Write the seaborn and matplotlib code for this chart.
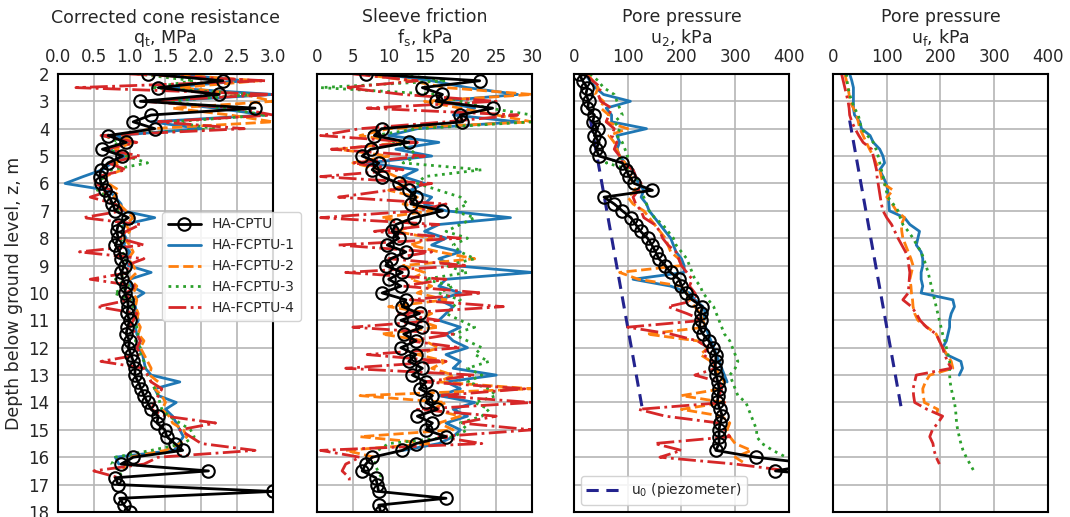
import numpy as np
import pandas as pd
import matplotlib
matplotlib.use("Agg")
import matplotlib.pyplot as plt
import seaborn as sns

# ================== DATA (0.25 m steps) ================== #
depth = np.arange(2.0, 18.01, 0.25)
nan = np.nan

series_names = ["HA-CPTU", "HA-FCPTU-1", "HA-FCPTU-2", "HA-FCPTU-3", "HA-FCPTU-4"]

# corrected cone resistance qt [MPa]
qt_cptu = [1.25, 2.30, 1.40, 2.25, 1.15,
           2.75, 1.30, 1.05, 1.35, 0.70,
           0.95, 0.62, 0.90, 0.70, 0.60,
           0.58, 0.60, 0.65, 0.72, 0.76,
           0.80, 0.98, 0.84, 0.82, 0.84,
           0.80, 0.86, 0.88, 0.93, 0.88,
           0.90, 0.95, 0.93, 0.97, 0.98,
           0.96, 1.00, 0.97, 0.95, 1.00,
           0.98, 1.02, 1.05, 1.08, 1.07,
           1.12, 1.16, 1.20, 1.25, 1.30,
           1.40, 1.38, 1.49, 1.52, 1.63,
           1.74, 1.05, 0.88, 2.10, 0.80,
           0.84, 3.00, 0.86, 0.92, 1.00]
qt_f1 = [1.60, 2.60, 1.50, 3.00, 1.40,
         2.20, 2.90, 1.30, 2.00, 0.80,
         1.00, 0.70, 0.95, 0.75, 0.62,
         0.35, 0.10, 0.70, 0.80, 0.88,
         0.90, 1.35, 0.92, 0.90, 0.95,
         0.92, 1.00, 0.95, 0.98, 1.30,
         1.00, 1.02, 1.20, 1.05, 1.08,
         1.10, 1.12, 1.08, 1.10, 1.15,
         1.12, 1.18, 1.20, 1.22, 1.30,
         1.70, 1.35, 1.40, 1.65, 1.50,
         1.60, 1.65, 1.70, 1.75, 1.68,
         1.62, 0.80, 0.85, nan, nan,
         nan, nan, nan, nan, nan]
qt_f2 = [1.50, 2.80, 1.70, 2.60, 3.00,
         1.60, 2.40, 3.00, 1.30, 0.90,
         1.05, 0.80, 1.00, 0.80, 0.90,
         0.65, 0.70, 0.85, 0.78, 0.85,
         0.95, 1.05, 0.95, 1.00, 0.92,
         1.00, 1.05, 0.98, 1.05, 1.10,
         1.00, 1.10, 1.05, 1.10, 1.08,
         1.12, 1.10, 1.15, 1.12, 1.20,
         1.15, 1.20, 1.25, 1.30, 1.28,
         1.40, 1.35, 1.45, 1.50, 1.45,
         1.55, 1.60, 1.75, 1.80, 1.70,
         1.50, 1.00, 0.95, 0.90, nan,
         nan, nan, nan, nan, nan]
qt_f3 = [1.10, 1.90, 1.30, 2.70, 1.50,
         2.30, 2.90, 1.60, 2.20, 0.65,
         0.85, 0.70, 0.95, 1.25, 0.75,
         0.60, 0.65, 0.55, 0.70, 0.80,
         0.85, 0.95, 0.88, 0.92, 0.90,
         0.85, 0.90, 0.95, 0.90, 0.98,
         0.80, 1.00, 0.78, 1.02, 1.05,
         1.08, 1.05, 1.10, 1.12, 1.08,
         1.15, 1.15, 1.20, 1.22, 1.25,
         1.30, 1.35, 1.40, 1.42, 1.45,
         1.55, 1.70, 1.85, 1.90, 1.75,
         1.30, 0.80, 0.75, 0.85, 0.90,
         nan, nan, nan, nan, nan]
qt_f4 = [1.00, 2.90, 0.25, 3.00, 1.20,
         2.50, 3.00, 1.40, 2.60, 0.60,
         1.10, 0.65, 1.15, 0.70, 0.95,
         0.55, 0.50, 0.75, 0.45, 0.80,
         0.90, 0.35, 1.15, 0.95, 0.85,
         1.20, 0.30, 1.20, 0.95, 1.00,
         0.45, 1.10, 0.95, 1.00, 0.55,
         1.10, 1.05, 1.00, 1.10, 1.15,
         1.10, 1.15, 0.60, 1.20, 1.25,
         1.30, 1.45, 1.40, 1.35, 1.30,
         1.50, 2.20, 1.70, 1.85, 2.00,
         2.75, 1.40, 1.20, 0.50, 0.85,
         nan, nan, nan, nan, nan]

# sleeve friction fs [kPa]
fs_cptu = [6.8, 22.7, 14.7, 17.5, 16.6,
           24.5, 20.0, 20.3, 9.0, 8.0,
           12.8, 7.5, 6.3, 8.6, 7.7,
           9.1, 11.4, 12.8, 13.8, 13.1,
           17.5, 13.5, 11.0, 10.5, 11.4,
           9.8, 12.4, 10.3, 9.6, 11.9,
           10.0, 11.7, 9.1, 12.4, 11.9,
           14.3, 11.7, 14.7, 12.1, 13.8,
           11.7, 13.8, 12.8, 14.7, 13.3,
           15.2, 14.3, 16.1, 15.2, 16.8,
           14.0, 16.1, 15.2, 18.0, 13.8,
           11.9, 7.7, 6.8, 6.3, 8.2,
           8.4, 8.6, 18.0, 8.6, 8.9]
fs_f1 = [9, 16, 21, 28, 17,
         22, 19, 28, 14, 10,
         17, 11, 16, 7, 14,
         12, 15, 13, 16, 15,
         18, 27, 17, 15, 18,
         16, 20, 17, 19, 30,
         18, 17, 20, 17, 19,
         18, 17, 20, 18, 19,
         21, 18, 20, 19, 25,
         18, 20, 17, 22, 19,
         21, 18, 20, 19, 17,
         12, nan, nan, nan, nan,
         nan, nan, nan, nan, nan]
fs_f2 = [6, 13, 18, 30, 15,
         20, 25, 30, 10, 6,
         12, 3, 10, 5, 9,
         11, 13, 10, 14, 12,
         16, 9, 14, 11, 16,
         13, 17, 22, 12, 15,
         13, 16, 14, 18, 10,
         16, 14, 17, 9, 15,
         17, 14, 18, 16, 19,
         17, 30, 6, 18, 16,
         20, 17, 19, 6, 16,
         4, 8, nan, nan, nan,
         nan, nan, nan, nan, nan]
fs_f3 = [11, 18, 0.5, 17, 20,
         24, 30, 30, 14, 8,
         11, 13, 14, 12, 23,
         15, 14, 17, 20, 21,
         19, 22, 20, 18, 21,
         19, 20, 22, 18, 21,
         15, 19, 17, 20, 19,
         18, 20, 22, 19, 21,
         23, 22, 24, 21, 23,
         21, 24, 25, 22, 24,
         23, 20, 21, 19, 10,
         8.5, 8.5, 8, 8.5, 9,
         nan, nan, nan, nan, nan]
fs_f4 = [5, 14, 4, 12, 25,
         7, 28, 18, 6, 0.5,
         14, 2, 15, 5, 12,
         0.5, 16, 10, 3, 18,
         14, 0.5, 17, 8, 20,
         3, 16, 10, 21, 4,
         18, 12, 23, 13, 26,
         11, 17, 5, 19, 13,
         20, 7, 18, 4, 22,
         15, 29, 17, 30, 14,
         25, 20, 30, 17, 23,
         0.5, 6, 4, 3.5, 4.5,
         4.5, nan, nan, nan, nan]

# pore pressure u2 [kPa]
u2_cptu = [10, 16, 25, 22, 28,
           25, 38, 35, 44, 38,
           47, 41, 47, 90, 97,
           103, 112, 146, 56, 75,
           90, 106, 115, 124, 137,
           145, 152, 158, 170, 180,
           196, 200, 208, 220, 239,
           236, 236, 233, 240, 251,
           258, 264, 264, 262, 264,
           268, 270, 268, 267, 272,
           276, 272, 270, 270, 270,
           264, 338, 450, 375, 520,
           nan, nan, nan, nan, nan]
u2_f1 = [20, 30, 40, 55, 105,
         60, 70, 70, 135, 80,
         85, 80, 85, 95, 110,
         115, 120, 130, 125, 135,
         140, 150, 160, 170, 180,
         185, 190, 200, 205, 205,
         110, 180, 215, 225, 240,
         245, 240, 245, 250, 255,
         260, 265, 270, 275, 280,
         285, nan, nan, nan, nan,
         nan, nan, nan, nan, nan,
         nan, nan, nan, nan, nan,
         nan, nan, nan, nan, nan]
u2_f2 = [25, 35, 45, 40, 55,
         50, 65, 60, 100, 65,
         75, 80, 85, 95, 100,
         105, 110, 115, 100, 110,
         130, 140, 150, 160, 170,
         175, 180, 195, 200, 85,
         120, 200, 210, 215, 225,
         235, 240, 245, 135, 230,
         250, 235, 255, 265, 270,
         280, 275, 200, 280, 200,
         275, 290, 285, 290, 300,
         330, 300, 320, nan, nan,
         nan, nan, nan, nan, nan]
u2_f3 = [30, 45, 55, 75, 80,
         85, 90, 75, 85, 80,
         90, 95, 100, 60, 105,
         115, 125, 120, 130, 135,
         140, 150, 165, 175, 185,
         190, 200, 210, 215, 220,
         225, 235, 240, 250, 260,
         265, 270, 275, 280, 290,
         295, 300, 305, 300, 290,
         295, 300, 305, 320, 325,
         330, 335, 340, 340, 350,
         370, 395, nan, nan, nan,
         nan, nan, nan, nan, nan]
u2_f4 = [20, 35, 50, 45, 50,
         70, 65, 60, 75, 70,
         80, 75, 85, 90, 110,
         115, 125, 120, 110, 115,
         125, 130, 150, 160, 165,
         175, 190, 195, 200, 210,
         220, 215, 225, 230, 175,
         210, 240, 100, 180, 230,
         250, 240, 260, 265, 225,
         270, 275, 270, 280, 120,
         170, 270, 280, 290, 150,
         200, 160, 300, 400, nan,
         nan, nan, nan, nan, nan]

# pore pressure uf [kPa] (no HA-CPTU)
uf_f1 = [31, 35, 38, 38, 38,
         38, 40, 50, 53, 69,
         75, 87, 93, 96, 87,
         93, 99, 102, 103, 104,
         105, 133, 143, 161, 158,
         155, 164, 167, 167, 164,
         164, 167, 164, 223, 226,
         220, 217, 217, 214, 211,
         204, 211, 238, 241, 235,
         nan, nan, nan, nan, nan,
         nan, nan, nan, nan, nan,
         nan, nan, nan, nan, nan,
         nan, nan, nan, nan, nan]
uf_f2 = [22, 25, 28, 30, 31,
         38, 44, 47, 50, 56,
         62, 68, 75, 80, 87,
         90, 93, 112, 100, 110,
         118, 133, 127, 128, 130,
         135, 140, 145, 149, 146,
         143, 145, 146, 148, 149,
         152, 158, 175, 192, 198,
         204, 212, 220, 223, 180,
         172, 167, 168, 170, 195,
         192, nan, nan, nan, nan,
         nan, nan, nan, nan, nan,
         nan, nan, nan, nan, nan]
uf_f3 = [25, 26, 28, 31, 35,
         40, 47, 50, 53, 64,
         75, 80, 84, 87, 90,
         93, 96, 99, 102, 112,
         121, 125, 130, 140, 149,
         156, 164, 169, 173, 177,
         180, 183, 186, 189, 192,
         195, 198, 201, 204, 208,
         211, 214, 217, 217, 217,
         218, 220, 223, 226, 228,
         229, 230, 232, 235, 238,
         242, 248, 255, 262, nan,
         nan, nan, nan, nan, nan]
uf_f4 = [16, 19, 22, 25, 28,
         30, 31, 35, 41, 48,
         56, 72, 75, 78, 81,
         82, 84, 86, 88, 90,
         93, 100, 109, 115, 121,
         128, 135, 140, 141, 143,
         142, 141, 140, 130, 146,
         155, 162, 174, 192, 198,
         204, 208, 213, 220, 155,
         152, 149, 150, 152, 175,
         204, 195, 185, 180, 186,
         188, 192, 198, nan, nan,
         nan, nan, nan, nan, nan]

# hydrostatic pore pressure from piezometer
u0_depth = [3.7, 14.2]
u0_vals = [31, 127]

# ================== STYLE ================== #
sns.set_style("white")
plt.rcParams["font.family"] = ["DejaVu Sans"]
plt.rcParams["font.size"] = 12

colors = ["black", "#1f77b4", "#ff7f0e", "#2ca02c", "#d62728"]
styles = ["-", "-", "--", ":", "-."]

panels = [
    ("Corrected cone resistance\nq$_\\mathrm{t}$, MPa", (0, 3), np.arange(0, 3.01, 0.5),
     [qt_cptu, qt_f1, qt_f2, qt_f3, qt_f4]),
    ("Sleeve friction\nf$_\\mathrm{s}$, kPa", (0, 30), np.arange(0, 31, 5),
     [fs_cptu, fs_f1, fs_f2, fs_f3, fs_f4]),
    ("Pore pressure\nu$_\\mathrm{2}$, kPa", (0, 400), np.arange(0, 401, 100),
     [u2_cptu, u2_f1, u2_f2, u2_f3, u2_f4]),
    ("Pore pressure\nu$_\\mathrm{f}$, kPa", (0, 400), np.arange(0, 401, 100),
     [None, uf_f1, uf_f2, uf_f3, uf_f4]),
]

fig = plt.figure(figsize=(10.7, 5.17), dpi=100)
lefts = [0.0542, 0.2963, 0.5364, 0.7785]
axes = [fig.add_axes([l, 0.0097, 0.2009, 0.8473]) for l in lefts]

for k, (ax, (label, xlim, xticks, data)) in enumerate(zip(axes, panels)):
    # FCPTU series first, CPTU on top
    for i in [1, 2, 3, 4, 0]:
        vals = data[i]
        if vals is None:
            continue
        df = pd.DataFrame({"z": depth, "v": vals}).dropna()
        kw = dict(color=colors[i], linestyle=styles[i], linewidth=2.0, label=series_names[i])
        if i == 0:
            kw.update(marker="o", markersize=9, markerfacecolor="none",
                      markeredgecolor="black", markeredgewidth=1.5)
        sns.lineplot(data=df, x="v", y="z", orient="y", sort=False, estimator=None,
                     ax=ax, legend=False, **kw)

    if k >= 2:
        ax.plot(u0_vals, u0_depth, color="#23238e", linestyle="--", linewidth=2.2,
                dashes=(4, 2.5), label="u$_\\mathrm{0}$ (piezometer)", zorder=1.5)

    ax.set_xlim(*xlim)
    ax.set_ylim(18, 2)
    ax.set_xticks(xticks)
    ax.set_yticks(np.arange(2, 19, 1))
    ax.xaxis.tick_top()
    ax.xaxis.set_label_position("top")
    ax.set_xlabel(label, fontsize=12.5, linespacing=1.1, labelpad=3)
    ax.set_ylabel("")
    ax.grid(True, color="#b5b5b5", linewidth=1.2)
    ax.set_axisbelow(True)
    for sp in ax.spines.values():
        sp.set_color("black")
        sp.set_linewidth(1.5)
    ax.tick_params(axis="x", labelsize=12, length=0, pad=6)
    if k == 0:
        ax.tick_params(axis="y", labelsize=12, length=0, pad=6)
        ax.set_ylabel("Depth below ground level, z, m", fontsize=12.5)
    else:
        ax.tick_params(axis="y", labelleft=False, length=0)

# legends
h, l = axes[0].get_legend_handles_labels()
order = [l.index(n) for n in series_names]
leg1 = axes[0].legend([h[j] for j in order], [l[j] for j in order], loc="upper left",
                      bbox_to_anchor=(0.484, 0.685), borderaxespad=0, fontsize=10,
                      handlelength=2.4, framealpha=0.85)
leg1.set_zorder(10)

h3, l3 = axes[2].get_legend_handles_labels()
axes[2].legend([h3[-1]], [l3[-1]], loc="lower left", fontsize=10, handlelength=2.4,
               framealpha=0.85)

fig.savefig("out.png", dpi=100)
